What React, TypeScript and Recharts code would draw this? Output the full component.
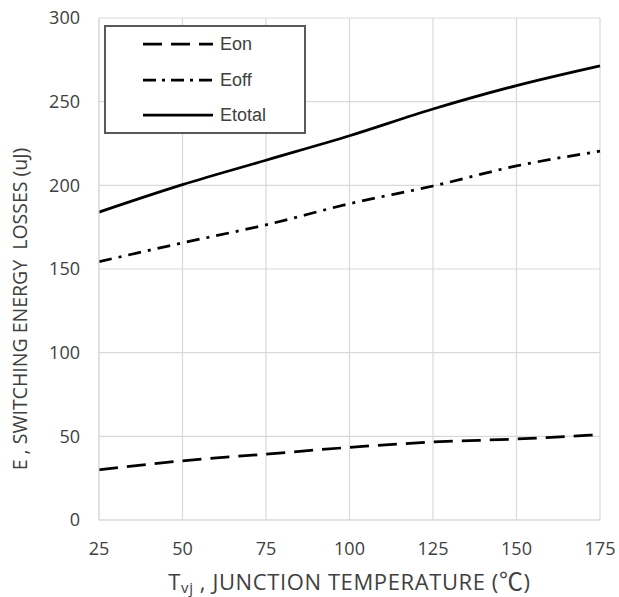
import React from 'react';
import { LineChart, Line, XAxis, YAxis, CartesianGrid, Legend } from 'recharts';

const temperatures = [25, 50, 75, 100, 125, 150, 175];
const eonValues = [30, 35.4, 39.4, 43.4, 46.6, 48.4, 51];
const eoffValues = [154.4, 165.6, 176.4, 189, 199.6, 211.6, 220.4];
const etotalValues = [184, 200.4, 215, 229.6, 245.6, 259.6, 271.4];
const xTicks = [25, 50, 75, 100, 125, 150, 175];
const yTicks = [0, 50, 100, 150, 200, 250, 300];

const data = temperatures.map((t, i) => ({
  t,
  Eon: eonValues[i],
  Eoff: eoffValues[i],
  Etotal: etotalValues[i],
}));

const FONT = '"Open Sans", sans-serif';
const TEXT = '#404040';

const series = [
  { key: 'Eon', dash: '19 9', legendDash: '19 9' },
  { key: 'Eoff', dash: '13 7 3 7', legendDash: '13 6 3 6' },
  { key: 'Etotal', dash: undefined as string | undefined, legendDash: undefined as string | undefined },
];

const renderLegend = () => (
  <div
    style={{
      width: 202,
      height: 109,
      boxSizing: 'border-box',
      border: '2px solid #595959',
      background: '#fff',
      position: 'relative',
      fontFamily: '"Liberation Sans", Arial, sans-serif',
      fontSize: 18,
      color: TEXT,
    }}
  >
    {series.map((s, i) => (
      <div
        key={s.key}
        style={{
          position: 'absolute',
          left: 37,
          top: 17 + i * 35.5 - 12,
          height: 24,
          display: 'flex',
          alignItems: 'center',
          whiteSpace: 'nowrap',
        }}
      >
        <svg width={70} height={6} style={{ display: 'block' }}>
          <line x1={0} y1={3} x2={70} y2={3} stroke="#000" strokeWidth={2.75} strokeDasharray={s.legendDash} />
        </svg>
        <span style={{ marginLeft: 7, lineHeight: '24px' }}>{s.key}</span>
      </div>
    ))}
  </div>
);

const XLabel = (props: any) => {
  const vb = props.viewBox || {};
  const cx = vb.x + vb.width / 2;
  return (
    <text x={cx} y={590} textAnchor="middle" fontFamily={FONT} fontSize={22} letterSpacing={0.6} fill={TEXT}>
      <tspan>T</tspan>
      <tspan fontSize={15} dy={3}>vj</tspan>
      <tspan dy={-3}> , JUNCTION TEMPERATURE (</tspan>
      <tspan fontFamily='"Noto Sans CJK SC", sans-serif' fontSize={24}>℃</tspan>
      <tspan>)</tspan>
    </text>
  );
};

const YLabel = () => (
  <text
    x={0}
    y={0}
    transform="translate(27, 309) rotate(-90)"
    textAnchor="middle"
    fontFamily={FONT}
    fontSize={19.5}
    fill={TEXT}
    style={{ whiteSpace: 'pre' }}
  >
    {'E , SWITCHING ENERGY  LOSSES (uJ)'}
  </text>
);

export default function App() {
  return (
    <div style={{ position: 'absolute', left: 0, top: 0, width: 619, height: 597, background: '#fff' }}>
      <LineChart width={619} height={597} data={data} margin={{ top: 18, right: 19, bottom: 0, left: 0 }}>
        <CartesianGrid stroke="#d9d9d9" strokeWidth={1.2} horizontal vertical />
        <XAxis
          dataKey="t"
          type="number"
          domain={[25, 175]}
          ticks={xTicks}
          height={77}
          axisLine={{ stroke: '#d9d9d9' }}
          tickLine={false}
          tickSize={0}
          tickMargin={22}
          tick={{ fontFamily: FONT, fontSize: 18, fill: TEXT }}
          label={<XLabel />}
        />
        <YAxis
          type="number"
          domain={[0, 300]}
          ticks={yTicks}
          width={99}
          axisLine={{ stroke: '#d9d9d9' }}
          tickLine={false}
          tickSize={0}
          tickMargin={19}
          tick={{ fontFamily: FONT, fontSize: 18, fill: TEXT }}
          label={<YLabel />}
        />
        <Legend
          layout="vertical"
          align="center"
          verticalAlign="middle"
          content={renderLegend}
          wrapperStyle={{ position: 'absolute', left: 104, top: 25, width: 202, height: 109 }}
        />
        {series.map((s) => (
          <Line
            key={s.key}
            dataKey={s.key}
            type="monotone"
            stroke="#000"
            strokeWidth={2.75}
            strokeDasharray={s.dash}
            dot={false}
            activeDot={false}
            isAnimationActive={false}
          />
        ))}
      </LineChart>
    </div>
  );
}
